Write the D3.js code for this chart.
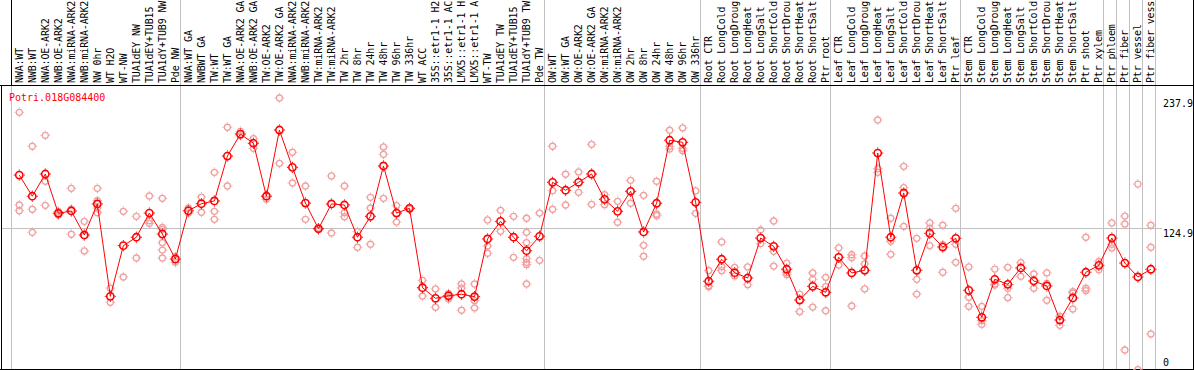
<!DOCTYPE html>
<html>
<head>
<meta charset="utf-8">
<script src="https://cdn.jsdelivr.net/npm/d3@7"></script>
<style>
body { margin: 0; background: #fff; }
svg { display: block; font-family: "DejaVu Sans Mono", monospace; font-size: 10px; }
</style>
</head>
<body>
<svg id="chart"></svg>
<script>
// gene and sample names (one column each)
var gene = "Potri.018G084400";
var samples = [
  "NWA:WT", "NWB:WT", "NWA:OE-ARK2", "NWB:OE-ARK2", "NWA:miRNA-ARK2", "NWB:miRNA-ARK2",
  "NW 0hr", "WT H2O", "WT-NW", "TUA1dEY NW", "TUA1dEY+TUB15 NW", "TUA1dY+TUB9 NW", "Pde NW",
  "NWA:WT GA", "NWBWT GA", "TW:WT", "TW:WT GA", "NWA:OE-ARK2 GA", "NWB:OE-ARK2 GA",
  "TW:OE-ARK2", "TW:OE-ARK2 GA", "NWA:miRNA-ARK2 GA", "NWB:miRNA-ARK2 GA", "TW:miRNA-ARK2",
  "TW:miRNA-ARK2 GA", "TW 2hr", "TW 8hr", "TW 24hr", "TW 48hr", "TW 96hr", "TW 336hr",
  "WT ACC", "35S::etr1-1 H2O", "35S::etr1-1 ACC", "LMX5::etr1-1 H2O", "LMX5::etr1-1 ACC",
  "WT-TW", "TUA1dEY TW", "TUA1dEY+TUB15 TW", "TUA1dY+TUB9 TW", "Pde TW",
  "OW:WT", "OW:WT GA", "OW:OE-ARK2", "OW:OE-ARK2 GA", "OW:miRNA-ARK2", "OW:miRNA-ARK2 GA",
  "OW 2hr", "OW 8hr", "OW 24hr", "OW 48hr", "OW 96hr", "OW 336hr",
  "Root CTR", "Root LongCold", "Root LongDrought", "Root LongHeat", "Root LongSalt",
  "Root ShortCold", "Root ShortDrought", "Root ShortHeat", "Root ShortSalt", "Ptr root",
  "Leaf CTR", "Leaf LongCold", "Leaf LongDrought", "Leaf LongHeat", "Leaf LongSalt",
  "Leaf ShortCold", "Leaf ShortDrought", "Leaf ShortHeat", "Leaf ShortSalt", "Ptr leaf",
  "Stem CTR", "Stem LongCold", "Stem LongDrought", "Stem LongHeat", "Stem LongSalt",
  "Stem ShortCold", "Stem ShortDrought", "Stem ShortHeat", "Stem ShortSalt", "Ptr shoot",
  "Ptr xylem", "Ptr phloem", "Ptr fiber", "Ptr vessel", "Ptr fiber vessel"
];

// mean expression per sample
var means = [
  171.0, 152.6, 171.9, 137.8, 139.8, 119.0, 145.9, 65.7, 109.7, 117.0,
  138.0, 119.8, 98.1, 140.0, 146.1, 148.5, 187.5, 206.6, 198.6, 152.6,
  210.1, 177.7, 146.7, 124.4, 145.9, 145.0, 117.0, 135.2, 178.9, 138.0,
  142.1, 73.2, 64.0, 66.2, 67.5, 65.4, 115.5, 130.8, 117.0, 105.3,
  117.8, 164.7, 157.8, 164.7, 171.9, 149.9, 139.5, 156.9, 121.6, 146.5,
  201.2, 199.4, 147.3, 78.8, 97.9, 86.2, 81.6, 116.3, 109.1, 89.2,
  62.5, 74.4, 69.2, 99.6, 86.0, 88.3, 190.1, 117.0, 155.4, 88.3,
  120.4, 108.5, 116.1, 70.9, 47.5, 80.5, 76.1, 90.3, 79.0, 74.7,
  45.1, 64.3, 86.6, 92.6, 116.3, 94.6, 82.5, 89.2
];

// single replicates per sample
var replicates = [
  [225.5, 145.0, 140.0], [196.0, 141.3, 121.3], [205.5, 165.6, 144.7], [139.4, 137.6, 136.3],
  [159.5, 141.3, 119.6], [130.8, 118.3, 105.1], [159.5, 148.7, 142.4, 138.3], [72.9, 60.5],
  [139.5, 82.5], [135.2, 99.0], [152.8, 131.4, 129.1], [150.8, 125.6, 123.9, 112.3, 105.9, 99.0],
  [100.1, 95.2], [142.4, 138.0], [151.9, 138.7], [173.4, 139.5, 132.6],
  [212.5, 161.5], [209.0, 205.2], [202.6, 194.2], [153.7, 149.9],
  [237.9, 181.2], [190.8, 164.1], [161.5, 132.6], [125.0, 123.6],
  [170.2, 120.7], [161.5, 138.3, 134.8], [121.8, 108.3], [151.7, 142.4, 110.9],
  [195.4, 189.0, 150.8], [144.4, 130.2], [142.8, 141.5], [79.6, 66.0],
  [72.1, 56.2], [68.0, 64.9, 63.4], [76.4, 72.9, 53.6], [76.4, 61.9, 55.6],
  [132.0, 109.4, 103.1], [140.4, 122.2], [135.2, 99.6], [133.5, 121.3, 112.3, 98.4, 95.2, 93.2, 76.4],
  [138.0, 97.0], [196.0, 157.4, 141.3], [171.7, 145.0], [173.7, 156.0],
  [197.7, 145.6], [153.9, 145.3], [148.2, 130.0], [166.4, 146.5],
  [153.4, 110.0, 100.5], [165.6, 137.2, 135.7], [209.9, 196.0, 193.6], [211.9, 194.2, 192.1],
  [157.2, 137.8], [88.0, 74.9, 74.1], [112.9, 91.4, 88.0], [90.9, 83.4],
  [91.2, 75.8], [123.3, 111.4], [131.1, 104.8, 92.0], [94.6, 86.2, 84.5],
  [67.7, 52.4], [86.0, 80.5, 56.4], [82.2, 74.1, 53.2], [107.7, 92.9],
  [101.8, 99.2, 57.3], [100.7, 93.8, 72.1], [218.8, 176.5, 173.4], [133.5, 113.5, 102.2],
  [178.6, 160.0, 126.5], [116.1, 80.5, 67.7], [129.4, 124.8, 109.7], [127.4, 110.5, 86.6],
  [142.1, 110.9, 95.2], [91.2, 64.9, 57.0], [57.0, 44.5, 41.4], [89.4, 76.4, 75.5],
  [90.9, 72.7, 64.5], [94.9, 83.1], [85.1, 72.7], [86.0, 77.0, 62.3],
  [48.4, 40.5], [69.7, 68.6, 54.7], [117.0, 72.7, 70.6], [96.1, 88.8],
  [129.4, 110.9, 107.7], [135.4, 128.5, 19.1], [163.2, 2.0], [127.4, 108.3, 33.0]
];

// column index where each group starts (gray separators)
var groupStarts = [13, 41, 53, 63, 73, 84, 85, 86, 87, 88];
var axisTicks = [0, 124.9, 237.9];

var width = 1194, height = 370;
var labelBottom = 85.5;
var maxChars = 14;   // the label strip only has room for 14 characters

var svg = d3.select("#chart")
  .attr("width", width)
  .attr("height", height);

// scales
var x = d3.scaleBand()
  .domain(d3.range(samples.length))
  .range([10.7, 1155.3]);
var px = function(i) { return x(i) + x.bandwidth() * 0.66; };
var edge = function(i) { return i < samples.length ? x(i) : x.range()[1]; };
var y = d3.scaleLinear()
  .domain([0, 237.9])
  .range([372, 98]);

// grid lines
var grid = svg.append("g")
  .attr("stroke", "#c0c0c0")
  .attr("stroke-width", 1);

grid.append("line")
  .attr("x1", 2).attr("x2", 1162)
  .attr("y1", Math.round(y(124.9)) + 0.5).attr("y2", Math.round(y(124.9)) + 0.5);

grid.selectAll(".sep")
  .data([0].concat(groupStarts))
  .enter().append("line")
    .attr("class", "sep")
    .attr("x1", function(d) { return Math.round(edge(d)) + 0.5; })
    .attr("x2", function(d) { return Math.round(edge(d)) + 0.5; })
    .attr("y1", function(d) { return d === 0 ? labelBottom : 0; })
    .attr("y2", height);

// borders
var frame = svg.append("g").attr("stroke", "#000").attr("stroke-width", 1);
frame.append("line").attr("x1", 0).attr("x2", width).attr("y1", labelBottom).attr("y2", labelBottom);
frame.append("line").attr("x1", 0).attr("x2", width).attr("y1", 369.5).attr("y2", 369.5);
frame.append("line").attr("x1", 1.5).attr("x2", 1.5).attr("y1", labelBottom).attr("y2", 370);
frame.append("line").attr("x1", 1193.5).attr("x2", 1193.5).attr("y1", 0).attr("y2", 370);
frame.append("line").attr("x1", 11.5).attr("x2", 11.5).attr("y1", 0).attr("y2", labelBottom);

// sample labels, rotated and cut to what fits in the strip
svg.append("g").selectAll("text")
  .data(samples)
  .enter().append("text")
    .attr("transform", function(d, i) { return "translate(" + (px(i) + 3.5) + "," + 83 + ") rotate(-90)"; })
    .attr("fill", "#000")
    .style("letter-spacing", "-0.15px")
    .text(function(d) { return d.slice(0, maxChars).trim(); });

// axis labels on the right
svg.append("g").selectAll("text")
  .data(axisTicks)
  .enter().append("text")
    .attr("x", 1163)
    .attr("y", function(d) { return d === 0 ? 366 : y(d) + 9; })
    .attr("fill", "#000")
    .text(function(d) { return d === 0 ? "0" : d3.format(".1f")(d); });

// gene name
svg.append("text")
  .attr("x", 9)
  .attr("y", 101)
  .attr("fill", "#ff0000")
  .text(gene);

// circle marker with four small stubs
function marker(sel, r, color, sw) {
  sel.append("circle")
    .attr("r", r)
    .attr("fill", "none")
    .attr("stroke", color)
    .attr("stroke-width", sw);
  var o = r + sw / 2, e = o + 1.2;
  sel.append("path")
    .attr("d", "M0," + (-o) + "V" + (-e) + "M0," + o + "V" + e +
               "M" + (-o) + ",0H" + (-e) + "M" + o + ",0H" + e)
    .attr("stroke", color)
    .attr("stroke-width", 1);
}

// replicates
var reps = [];
replicates.forEach(function(vals, i) {
  vals.forEach(function(v) { reps.push({i: i, v: v}); });
});
svg.append("g").selectAll("g")
  .data(reps)
  .enter().append("g")
    .attr("transform", function(d) { return "translate(" + px(d.i) + "," + y(d.v) + ")"; })
    .each(function() { marker(d3.select(this), 3, "#f0a0a0", 1.3); });

// mean line
var line = d3.line()
  .x(function(d, i) { return px(i); })
  .y(function(d) { return y(d); });
svg.append("path")
  .datum(means)
  .attr("d", line)
  .attr("fill", "none")
  .attr("stroke", "#ff0000")
  .attr("stroke-width", 1);

svg.append("g").selectAll("g")
  .data(means)
  .enter().append("g")
    .attr("transform", function(d, i) { return "translate(" + px(i) + "," + y(d) + ")"; })
    .each(function() { marker(d3.select(this), 3.6, "#ff0000", 1.6); });
</script>
</body>
</html>
